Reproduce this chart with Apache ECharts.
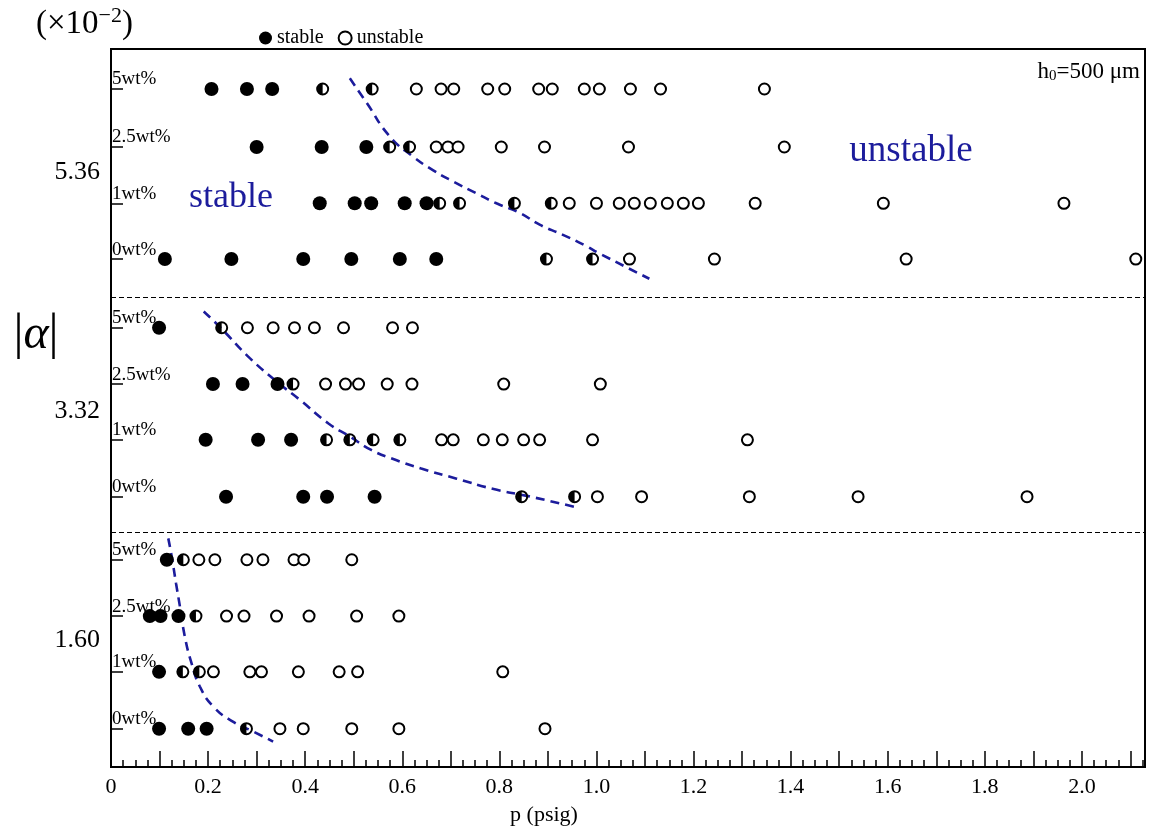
<!DOCTYPE html>
<html>
<head>
<meta charset="utf-8">
<script src="https://cdn.jsdelivr.net/npm/echarts@6/dist/echarts.min.js"></script>
<style>html,body{margin:0;padding:0;background:#fff}#c{width:1152px;height:830px}</style>
</head>
<body>
<div id="c"></div>
<script>
// ---- data ----
const rowLabels = ['0wt%', '1wt%', '2.5wt%', '5wt%'];
const alphaLabels = ['1.60', '3.32', '5.36'];
// row positions (bottom group first): 1.60 group, 3.32 group, 5.36 group; each 0,1,2.5,5 wt%
const rowY = [0.68, 1.69, 2.68, 3.68, 4.80, 5.81, 6.80, 7.80, 9.02, 10.01, 11.01, 12.04];
const groupY = [2.26, 6.31, 10.57];
const sepY = [4.16, 8.35];
const xTicks = [0, 0.2, 0.4, 0.6, 0.8, 1.0, 1.2, 1.4, 1.6, 1.8, 2.0];

const stableP = [
  [0.099, 0.159, 0.197],
  [0.099],
  [0.080, 0.102, 0.139],
  [0.115],
  [0.237, 0.396, 0.445, 0.543],
  [0.195, 0.303, 0.371],
  [0.210, 0.271, 0.343],
  [0.099],
  [0.111, 0.248, 0.396, 0.495, 0.595, 0.670],
  [0.430, 0.502, 0.536, 0.605, 0.650],
  [0.300, 0.434, 0.526],
  [0.207, 0.280, 0.332]
];
const marginalP = [
  [0.279],
  [0.148, 0.182],
  [0.175],
  [0.149],
  [0.846, 0.955],
  [0.444, 0.492, 0.540, 0.595],
  [0.375],
  [0.228],
  [0.897, 0.992],
  [0.677, 0.718, 0.831, 0.907],
  [0.574, 0.615],
  [0.436, 0.538]
];
const unstableP = [
  [0.348, 0.396, 0.496, 0.593, 0.894],
  [0.211, 0.286, 0.310, 0.386, 0.470, 0.508, 0.807],
  [0.238, 0.274, 0.341, 0.408, 0.506, 0.593],
  [0.181, 0.214, 0.280, 0.313, 0.377, 0.397, 0.496],
  [1.002, 1.093, 1.315, 1.539, 1.887],
  [0.681, 0.705, 0.767, 0.806, 0.850, 0.883, 0.992, 1.311],
  [0.442, 0.483, 0.510, 0.569, 0.620, 0.809, 1.008],
  [0.281, 0.334, 0.378, 0.419, 0.479, 0.580, 0.621],
  [1.068, 1.243, 1.638, 2.111],
  [0.944, 1.000, 1.047, 1.078, 1.111, 1.146, 1.179, 1.210, 1.327, 1.591, 1.963],
  [0.670, 0.694, 0.715, 0.804, 0.893, 1.066, 1.387],
  [0.629, 0.680, 0.706, 0.776, 0.811, 0.881, 0.909, 0.975, 1.006, 1.070, 1.132, 1.346]
];

// boundary curves (dashed)
const curveTopP = [0.492, 0.527, 0.574, 0.622, 0.663, 0.704, 0.752, 0.794, 0.842, 0.883, 0.931, 0.979, 1.006, 1.109];
const curveTopY = [12.23, 11.79, 11.20, 10.84, 10.60, 10.40, 10.19, 10.01, 9.84, 9.63, 9.45, 9.25, 9.12, 8.67];
const curveMidP = [0.191, 0.227, 0.286, 0.345, 0.389, 0.448, 0.492, 0.536, 0.587, 0.639, 0.712, 0.786, 0.859, 0.955];
const curveMidY = [8.09, 7.79, 7.26, 6.82, 6.52, 6.10, 5.87, 5.63, 5.45, 5.30, 5.12, 4.94, 4.81, 4.62];
const curveBotP = [0.118, 0.125, 0.134, 0.142, 0.152, 0.166, 0.183, 0.211, 0.252, 0.293, 0.334];
const curveBotY = [4.06, 3.74, 3.26, 2.85, 2.32, 1.84, 1.43, 1.07, 0.80, 0.63, 0.45];

// ---- build ----
const SERIF = 'Liberation Serif';
const BLUE = '#1c1c9c';
function toPoints(arr) {
  const out = [];
  arr.forEach((row, i) => row.forEach(p => out.push([p, rowY[i]])));
  return out;
}
function zip(a, b) { return a.map((v, i) => [v, b[i]]); }
function nearestIdx(list, v) {
  let best = 0;
  list.forEach((r, i) => { if (Math.abs(r - v) < Math.abs(list[best] - v)) best = i; });
  return best;
}
const halfPath = 'path://M0,-10A10,10 0 1,1 0,10A10,10 0 1,1 0,-10Z' +
  'M0,-7A7,7 0 1,0 0,7A7,7 0 1,0 0,-7Z' +
  'M0,7A7,7 0 0,1 0,-7Z';

const curveStyle = { color: BLUE, width: 2.6, type: [9, 6] };
const chart = echarts.init(document.getElementById('c'), null, { renderer: 'canvas' });
chart.setOption({
  animation: false,
  backgroundColor: '#fff',
  grid: { left: 111, right: 7, top: 49, bottom: 63, show: true, borderColor: '#000', borderWidth: 2, containLabel: false },
  legend: {
    data: ['stable', 'unstable'], left: 254, top: 23, icon: 'circle', itemWidth: 13, itemHeight: 13, itemGap: 14,
    textStyle: { fontFamily: SERIF, fontSize: 20, color: '#000' }
  },
  xAxis: {
    type: 'value', min: 0, max: 2.13, interval: 0.1,
    axisLine: { show: true, onZero: false, lineStyle: { color: '#000', width: 2 } },
    axisTick: { show: true, inside: true, length: 16, lineStyle: { color: '#000', width: 1.5 } },
    minorTick: { show: true, splitNumber: 4, length: 7, lineStyle: { color: '#000', width: 1.5 } },
    axisLabel: {
      fontFamily: SERIF, fontSize: 22, color: '#000', margin: 9,
      formatter: v => {
        const hit = xTicks.find(t => Math.abs(t - v) < 1e-6);
        if (hit === undefined) return '';
        return hit === 0 ? '0' : hit.toFixed(1);
      }
    },
    splitLine: { show: false }, minorSplitLine: { show: false }
  },
  yAxis: [{
    type: 'value', min: 0, max: 12.75, position: 'left',
    axisLine: { show: true, onZero: false, lineStyle: { color: '#000', width: 2 } },
    axisTick: { show: true, inside: true, length: 12, customValues: rowY, lineStyle: { color: '#000', width: 1.5 } },
    axisLabel: {
      customValues: groupY, fontFamily: SERIF, fontSize: 26, color: '#000', margin: 11,
      formatter: v => alphaLabels[nearestIdx(groupY, v)]
    },
    splitLine: { show: false }
  }, {
    type: 'value', min: 0, max: 12.75, position: 'left', offset: 0,
    axisLine: { show: false }, axisTick: { show: false },
    axisLabel: {
      inside: true, customValues: rowY, fontFamily: SERIF, fontSize: 19, color: '#000', margin: 1,
      verticalAlign: 'bottom',
      formatter: v => rowLabels[nearestIdx(rowY, v) % 4]
    },
    splitLine: { show: false }
  }],
  series: [
    {
      name: 'stable', type: 'scatter', data: toPoints(stableP), symbol: 'circle', symbolSize: 14,
      itemStyle: { color: '#000', opacity: 1 }, z: 5,
      markLine: {
        silent: true, symbol: ['none', 'none'], label: { show: false },
        lineStyle: { color: '#000', width: 1, type: [5, 3] },
        data: sepY.map(v => ({ yAxis: v }))
      }
    },
    {
      name: 'unstable', type: 'scatter', data: toPoints(unstableP), symbol: 'circle', symbolSize: 11,
      itemStyle: { color: '#fff', borderColor: '#000', borderWidth: 2, opacity: 1 }, z: 5
    },
    {
      name: 'marginal', type: 'scatter', data: toPoints(marginalP), symbol: halfPath, symbolSize: 13,
      itemStyle: { color: '#000', opacity: 1 }, z: 5
    },
    { name: 'b1', type: 'line', data: zip(curveTopP, curveTopY), smooth: true, showSymbol: false, lineStyle: curveStyle, z: 3 },
    { name: 'b2', type: 'line', data: zip(curveMidP, curveMidY), smooth: true, showSymbol: false, lineStyle: curveStyle, z: 3 },
    { name: 'b3', type: 'line', data: zip(curveBotP, curveBotY), smooth: true, showSymbol: false, lineStyle: curveStyle, z: 3 }
  ],
  graphic: [
    { type: 'text', x: 231, y: 198, style: { text: 'stable', fill: BLUE, fontFamily: SERIF, fontSize: 36, align: 'center', verticalAlign: 'middle' } },
    { type: 'text', x: 911, y: 151, style: { text: 'unstable', fill: BLUE, fontFamily: SERIF, fontSize: 37, align: 'center', verticalAlign: 'middle' } },
    { type: 'text', x: 1140, y: 72, style: {
        text: '{a|h}{s|0}{a|=500 μm}', align: 'right', verticalAlign: 'middle',
        rich: { a: { fontFamily: SERIF, fontSize: 23, fill: '#000', verticalAlign: 'middle' },
                s: { fontFamily: SERIF, fontSize: 15, fill: '#000', verticalAlign: 'bottom' } } } },
    { type: 'text', x: 544, y: 815, style: { text: 'p (psig)', fill: '#000', fontFamily: SERIF, fontSize: 22, align: 'center', verticalAlign: 'middle' } },
    { type: 'text', x: 36, y: 24, style: {
        text: '{a|(×10}{b|−2}{a|)}', align: 'left', verticalAlign: 'middle',
        rich: { a: { fontFamily: SERIF, fontSize: 33, fill: '#000', lineHeight: 38 },
                b: { fontFamily: SERIF, fontSize: 22, fill: '#000', verticalAlign: 'top', lineHeight: 38 } } } },
    { type: 'text', x: 36, y: 335, style: {
        text: '{r||}{i|α}{r||}', align: 'center', verticalAlign: 'middle',
        rich: { r: { fontFamily: SERIF, fontSize: 50, fill: '#000' },
                i: { fontFamily: SERIF, fontSize: 48, fontStyle: 'italic', fill: '#000' } } } }
  ]
});
</script>
</body>
</html>
